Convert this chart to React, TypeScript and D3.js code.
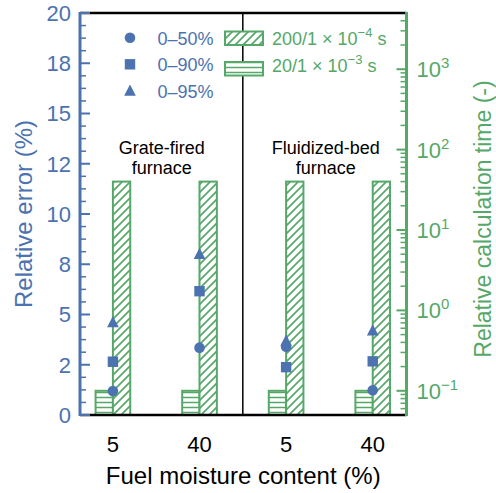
import React from "react";
import * as d3 from "d3";

const categories = ["5", "40", "5", "40"];
const positions = [1, 2, 3, 4];
const err50 = [1.19, 3.35, 3.4, 1.23];
const err90 = [2.65, 6.16, 2.38, 2.67];
const err95 = [4.6, 8.0, 3.68, 4.19];
const timeFine = [40, 40, 40, 40];
const timeCoarse = [0.1, 0.1, 0.1, 0.1];
const leftTickValues = [0, 2.5, 5, 7.5, 10, 12.5, 15, 17.5, 20];
const leftTickLabels = ["0", "2", "5", "8", "10", "12", "15", "18", "20"];
const rightTickValues = [0.1, 1, 10, 100, 1000];
const rightTickExps = ["\u22121", "0", "1", "2", "3"];
const groupLabels = [
  { x: 1.565, lines: ["Grate-fired", "furnace"] },
  { x: 3.457, lines: ["Fluidized-bed", "furnace"] },
];

const BLUE = "#4C72B0";
const GREEN = "#55A868";
const FONT = "'Liberation Sans', Arial, sans-serif";

const W = 496;
const H = 493;
const L = 80;
const R = 406.5;
const T = 13;
const B = 415;

export default function App() {
  const x = d3.scaleLinear().domain([0.62, 4.39]).range([L, R]);
  const yL = d3.scaleLinear().domain([0, 20]).range([B, T]);
  const yR = d3.scaleLog().domain([0.05, 5000]).range([B, T]);
  const bw = x(1.2) - x(1);

  const minorLeft: number[] = [];
  for (let v = 0; v <= 20.0001; v += 0.625) {
    if (Math.abs(v / 2.5 - Math.round(v / 2.5)) > 1e-6) minorLeft.push(v);
  }
  const minorRight: number[] = [];
  for (let e = -2; e <= 3; e++) {
    for (let k = 2; k <= 9; k++) {
      const v = k * Math.pow(10, e);
      if (v > 0.05 && v < 5000) minorRight.push(v);
    }
  }

  const tri = (cx: number, cy: number, s: number) =>
    `M${cx},${cy - s * 0.62} L${cx + s * 0.55},${cy + s * 0.45} L${cx - s * 0.55},${cy + s * 0.45} Z`;

  return (
    <svg
      width={W}
      height={H}
      style={{ position: "absolute", left: 0, top: 0, background: "#fff" }}
      fontFamily={FONT}
    >
      <defs>
        <pattern id="hatchD" patternUnits="userSpaceOnUse" width="8" height="8">
          <rect width="8" height="8" fill="#fff" />
          <path d="M-2,2 L2,-2 M0,8 L8,0 M6,10 L10,6" stroke={GREEN} strokeWidth="1.7" />
        </pattern>
        <pattern id="hatchH" patternUnits="userSpaceOnUse" width="4" height="5">
          <rect width="4" height="5" fill="#fff" />
          <path d="M-1,2.5 H5" stroke={GREEN} strokeWidth="1.5" />
        </pattern>
      </defs>
      <rect width={W} height={H} fill="#fff" />

      {/* bars */}
      {positions.map((p, i) => (
        <g key={"b" + i}>
          <rect
            x={x(p) - bw}
            y={yR(timeCoarse[i])}
            width={bw}
            height={B - yR(timeCoarse[i])}
            fill="url(#hatchH)"
            stroke={GREEN}
            strokeWidth={2}
          />
          <rect
            x={x(p)}
            y={yR(timeFine[i])}
            width={bw}
            height={B - yR(timeFine[i])}
            fill="url(#hatchD)"
            stroke={GREEN}
            strokeWidth={2}
          />
        </g>
      ))}

      {/* divider */}
      <line x1={x(2.5)} x2={x(2.5)} y1={T} y2={B} stroke="#000" strokeWidth={1.5} />

      {/* group labels */}
      {groupLabels.map((g, i) => (
        <text key={"g" + i} x={x(g.x)} y={154} textAnchor="middle" fontSize={18} fill="#000">
          <tspan x={x(g.x)} y={154}>{g.lines[0]}</tspan>
          <tspan x={x(g.x)} y={173.5}>{g.lines[1]}</tspan>
        </text>
      ))}

      {/* markers */}
      {positions.map((p, i) => (
        <g key={"m" + i} fill={BLUE}>
          <circle cx={x(p)} cy={yL(err50[i])} r={5.3} />
          <rect x={x(p) - 5.2} y={yL(err90[i]) - 5.2} width={10.4} height={10.4} />
          <path d={tri(x(p), yL(err95[i]), 10.6)} />
        </g>
      ))}

      {/* spines */}
      <line x1={L} x2={R} y1={T} y2={T} stroke="#000" strokeWidth={2.5} />
      <line x1={L} x2={R} y1={B} y2={B} stroke="#000" strokeWidth={2.5} />
      <line x1={L} x2={L} y1={T - 1} y2={B + 1} stroke={BLUE} strokeWidth={3} />
      <line x1={R} x2={R} y1={T - 1} y2={B + 1} stroke={GREEN} strokeWidth={3} />

      {/* left ticks */}
      {minorLeft.map((v, i) => (
        <line key={"lm" + i} x1={L} x2={L + 6} y1={yL(v)} y2={yL(v)} stroke={BLUE} strokeWidth={1.5} />
      ))}
      {leftTickValues.map((v, i) => (
        <g key={"lt" + i}>
          <line x1={L} x2={L + 10} y1={yL(v)} y2={yL(v)} stroke={BLUE} strokeWidth={2} />
          <text x={L - 9} y={yL(v)} dy="0.36em" textAnchor="end" fontSize={22} fill={BLUE}>
            {leftTickLabels[i]}
          </text>
        </g>
      ))}

      {/* right ticks */}
      {minorRight.map((v, i) => (
        <line key={"rm" + i} x1={R - 6} x2={R} y1={yR(v)} y2={yR(v)} stroke={GREEN} strokeWidth={1.5} />
      ))}
      {rightTickValues.map((v, i) => (
        <g key={"rt" + i}>
          <line x1={R - 10} x2={R} y1={yR(v)} y2={yR(v)} stroke={GREEN} strokeWidth={2} />
          <text x={R + 10} y={yR(v) + 8} fontSize={22} fill={GREEN}>
            10
            <tspan dy={-9} fontSize={15}>{rightTickExps[i]}</tspan>
          </text>
        </g>
      ))}

      {/* x tick labels */}
      {positions.map((p, i) => (
        <text key={"xt" + i} x={x(p)} y={452} textAnchor="middle" fontSize={22} fill="#000">
          {categories[i]}
        </text>
      ))}

      {/* axis labels */}
      <text x={(L + R) / 2} y={484} textAnchor="middle" fontSize={24} fill="#000">
        Fuel moisture content (%)
      </text>
      <text
        transform={`translate(32,${(T + B) / 2}) rotate(-90)`}
        textAnchor="middle"
        fontSize={24}
        fill={BLUE}
      >
        Relative error (%)
      </text>
      <text
        transform={`translate(491,${(T + B) / 2 + 5}) rotate(-90)`}
        textAnchor="middle"
        fontSize={23}
        fill={GREEN}
      >
        Relative calculation time (-)
      </text>

      {/* legend: markers */}
      <g fill={BLUE}>
        <circle cx={130} cy={37.7} r={5.3} />
        <rect x={130 - 5.2} y={64.3 - 5.2} width={10.4} height={10.4} />
        <path d={tri(130, 91, 10.6)} />
      </g>
      <g fontSize={18} fill={BLUE}>
        <text x={157.5} y={45}>0–50%</text>
        <text x={157.5} y={71.3}>0–90%</text>
        <text x={157.5} y={97.7}>0–95%</text>
      </g>

      {/* legend: bars */}
      <rect x={225} y={31.5} width={38} height={13.5} fill="url(#hatchD)" stroke={GREEN} strokeWidth={2} />
      <rect x={225} y={62} width={38} height={13.5} fill="url(#hatchH)" stroke={GREEN} strokeWidth={2} />
      <g fontSize={18} fill={GREEN}>
        <text x={272} y={44.5}>
          200/1<tspan> × </tspan>10<tspan dy={-8} fontSize={13}>−4</tspan>
          <tspan dy={8}> s</tspan>
        </text>
        <text x={272} y={71.5}>
          20/1<tspan> × </tspan>10<tspan dy={-8} fontSize={13}>−3</tspan>
          <tspan dy={8}> s</tspan>
        </text>
      </g>
    </svg>
  );
}
